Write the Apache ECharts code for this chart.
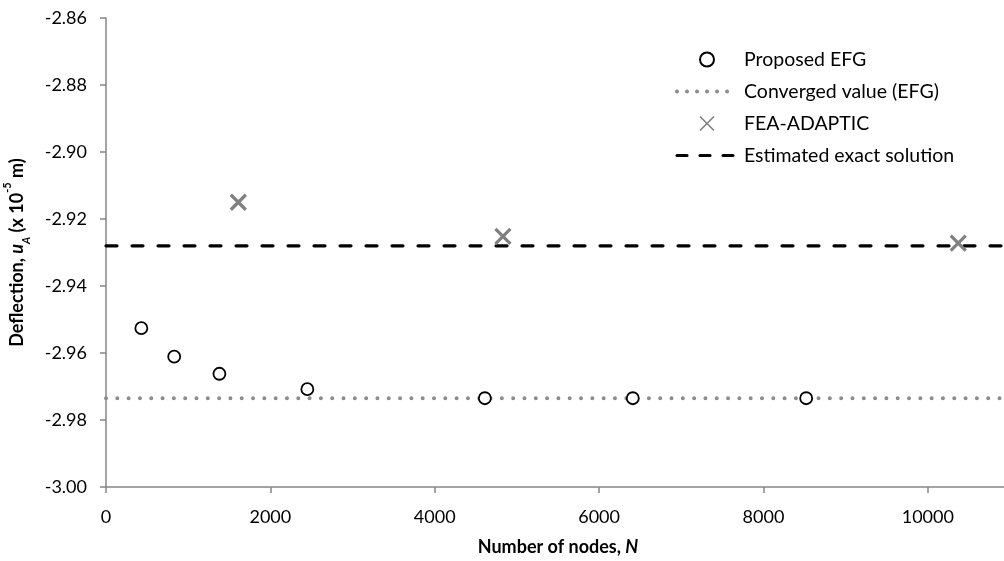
<!DOCTYPE html>
<html>
<head>
<meta charset="utf-8">
<script src="https://cdn.jsdelivr.net/npm/echarts@6/dist/echarts.min.js"></script>
<style>
  html, body { margin: 0; padding: 0; background: #fff; overflow: hidden; }
  #chart { width: 1010px; height: 561px; }
</style>
</head>
<body>
<div id="chart"></div>
<script>
// Nodal counts and tip deflections (x 1e-5 m) for the proposed EFG runs
const efgNodes = [430, 830, 1380, 2450, 4610, 6410, 8520];
const efgDeflection = [-2.9526, -2.9611, -2.9662, -2.9708, -2.9735, -2.9735, -2.9735];

// FEA-ADAPTIC results
const feaNodes = [1610, 4830, 10370];
const feaDeflection = [-2.915, -2.9252, -2.9272];

// Reference levels
const convergedValue = -2.9735;
const exactValue = -2.928;

// Axis ranges
const xMin = 0, xMax = 11000, xStep = 2000;
const yMin = -3.00, yMax = -2.86, yStep = 0.02;

const FONT = 'Lato';
const AXIS_GREY = '#868686';

const chart = echarts.init(document.getElementById('chart'), null, { renderer: 'canvas' });

const pairs = (xs, ys) => xs.map((x, i) => [x, ys[i]]);
const levelLine = v => [[xMin, v], [xMax, v]];

const crossPath = 'path://M0,0L10,10M10,0L0,10';
const hiddenSymbol = { color: 'rgba(0,0,0,0)', borderColor: 'rgba(0,0,0,0)', borderWidth: 0 };

chart.setOption({
  animation: false,
  backgroundColor: '#fff',
  textStyle: { fontFamily: FONT },
  grid: { left: 106, right: 0, top: 18, bottom: 74, containLabel: false, outerBoundsMode: 'none' },
  legend: {
    orient: 'vertical',
    left: 670,
    top: 44,
    itemWidth: 60,
    itemHeight: 14,
    itemGap: 11,
    symbolKeepAspect: true,
    textStyle: { fontFamily: FONT, fontSize: 19.5, color: '#000', lineHeight: 21, padding: [0, 0, 0, 2] },
    data: [
      { name: 'Proposed EFG' },
      {
        name: 'Converged value (EFG)',
        itemStyle: hiddenSymbol,
        lineStyle: { color: '#8c8c8c', width: 4, type: [0.01, 10], cap: 'round' }
      },
      { name: 'FEA-ADAPTIC', itemStyle: { borderWidth: 1.6 } },
      {
        name: 'Estimated exact solution',
        itemStyle: hiddenSymbol,
        lineStyle: { color: '#000', width: 3.2, type: [10, 13], cap: 'round' }
      }
    ]
  },
  xAxis: {
    type: 'value',
    min: xMin,
    max: xMax,
    interval: xStep,
    name: '{b|Number of nodes, }{bi|N}',
    nameLocation: 'middle',
    nameGap: 51,
    nameTextStyle: {
      rich: {
        b: { fontFamily: FONT, fontSize: 18, fontWeight: 'bold', color: '#000' },
        bi: { fontFamily: FONT, fontSize: 18, fontWeight: 'bold', fontStyle: 'italic', color: '#000' }
      }
    },
    axisLine: { show: true, onZero: false, lineStyle: { color: AXIS_GREY, width: 1.5 } },
    axisTick: { show: true, length: 6, lineStyle: { color: AXIS_GREY, width: 1.5 } },
    axisLabel: {
      margin: 21,
      fontFamily: FONT,
      fontSize: 18,
      color: '#000',
      showMaxLabel: false,
      formatter: v => String(v)
    },
    splitLine: { show: false }
  },
  yAxis: {
    type: 'value',
    min: yMin,
    max: yMax,
    interval: yStep,
    name: '{b|Deflection, }{bi|u}{sub|A}{b| (x 10}{sup|-5}{b| m)}',
    nameLocation: 'middle',
    nameRotate: 90,
    nameGap: 74,
    nameTextStyle: {
      rich: {
        b: { fontFamily: FONT, fontSize: 18, fontWeight: 'bold', color: '#000', lineHeight: 22 },
        bi: { fontFamily: FONT, fontSize: 18, fontWeight: 'bold', fontStyle: 'italic', color: '#000', lineHeight: 22 },
        sub: { fontFamily: FONT, fontSize: 11, fontWeight: 'bold', fontStyle: 'italic', color: '#000', verticalAlign: 'bottom', lineHeight: 16 },
        sup: { fontFamily: FONT, fontSize: 11, fontWeight: 'bold', color: '#000', verticalAlign: 'top', lineHeight: 30 }
      }
    },
    axisLine: { show: true, onZero: false, lineStyle: { color: AXIS_GREY, width: 1.5 } },
    axisTick: { show: true, length: 6, lineStyle: { color: AXIS_GREY, width: 1.5 } },
    axisLabel: {
      margin: 19,
      fontFamily: FONT,
      fontSize: 18,
      color: '#000',
      formatter: v => v.toFixed(2)
    },
    splitLine: { show: false }
  },
  series: [
    {
      name: 'Converged value (EFG)',
      type: 'line',
      data: levelLine(convergedValue),
      symbol: 'none',
      silent: true,
      z: 1,
      lineStyle: { color: '#8c8c8c', width: 4, type: [0.01, 11.3], cap: 'round' },
      itemStyle: { color: '#8c8c8c' }
    },
    {
      name: 'Estimated exact solution',
      type: 'line',
      data: levelLine(exactValue),
      symbol: 'none',
      silent: true,
      z: 2,
      lineStyle: { color: '#000', width: 3.2, type: [11, 15], cap: 'round' },
      itemStyle: { color: '#000' }
    },
    {
      name: 'Proposed EFG',
      type: 'scatter',
      data: pairs(efgNodes, efgDeflection),
      symbol: 'circle',
      symbolSize: 12,
      z: 3,
      itemStyle: { color: '#fff', borderColor: '#000', borderWidth: 1.8, opacity: 1 }
    },
    {
      name: 'FEA-ADAPTIC',
      type: 'scatter',
      data: pairs(feaNodes, feaDeflection),
      symbol: crossPath,
      symbolSize: 15,
      z: 4,
      itemStyle: { color: 'rgba(0,0,0,0)', borderColor: '#808080', borderWidth: 3.2, opacity: 1 }
    }
  ]
});
</script>
</body>
</html>
